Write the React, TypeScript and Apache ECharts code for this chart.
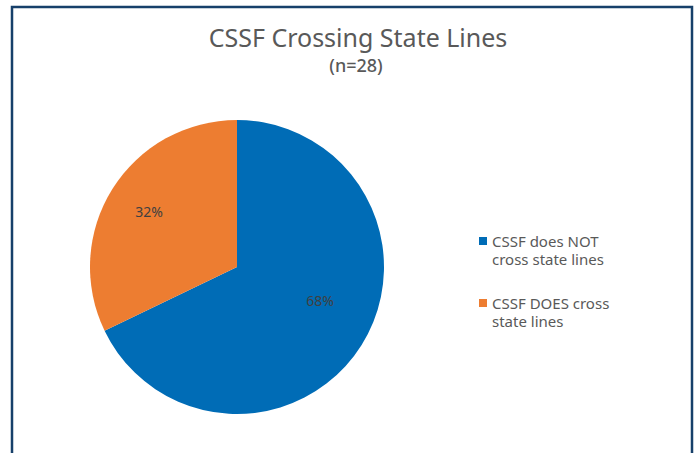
import React, { useEffect, useRef } from "react";
import * as echarts from "echarts";

const categories = ["CSSF does NOT cross state lines", "CSSF DOES cross state lines"];
const legendLabels = ["\nCSSF does NOT\ncross state lines", "\nCSSF DOES cross\nstate lines"];
const counts = [19, 9];
const percentLabels = ["68%", "32%"];
const colors = ["#006CB6", "#ED7D31"];
const labelPositions = [
  [320, 300],
  [149, 211],
];

export default function App() {
  const ref = useRef<HTMLDivElement>(null);
  useEffect(() => {
    if (!ref.current) return;
    const chart = echarts.init(ref.current, null, { renderer: "svg" });
    const font = "'Noto Sans', 'Open Sans', sans-serif";
    chart.setOption({
      animation: false,
      backgroundColor: "#ffffff",
      title: [
        {
          text: "CSSF Crossing State Lines",
          left: 353,
          top: 19,
          textAlign: "center",
          textStyle: { fontFamily: font, fontSize: 25, fontWeight: "normal", color: "#595959" },
        },
        {
          text: "(n=28)",
          left: 351,
          top: 51,
          textAlign: "center",
          textStyle: { fontFamily: font, fontSize: 18, fontWeight: 500, color: "#595959" },
        },
      ],
      legend: {
        orient: "vertical",
        left: 479,
        top: 214,
        padding: 0,
        itemWidth: 8,
        itemHeight: 8,
        itemGap: 8,
        icon: "rect",
        selectedMode: false,
        data: categories,
        formatter: (name: string) => legendLabels[categories.indexOf(name)],
        textStyle: {
          fontFamily: font,
          fontSize: 15,
          lineHeight: 18,
          color: "#595959",
        },
      },
      graphic: [
        {
          type: "rect",
          shape: { x: 12, y: 7, width: 680, height: 460 },
          style: { fill: "none", stroke: "#17406A", lineWidth: 2.5 },
          silent: true,
        },
      ],
      series: [
        {
          type: "pie",
          center: [237, 267],
          radius: 147,
          startAngle: 90,
          clockwise: true,
          data: categories.map((name, i) => ({
            name,
            value: counts[i],
            itemStyle: { color: colors[i] },
          })),
          label: {
            show: true,
            position: "inside",
            formatter: (p: any) => percentLabels[p.dataIndex],
            fontFamily: font,
            fontSize: 14,
            color: "#404040",
          },
          labelLayout: (p: any) => ({
            x: labelPositions[p.dataIndex][0],
            y: labelPositions[p.dataIndex][1],
            align: "center",
            verticalAlign: "middle",
          }),
          labelLine: { show: false },
          emphasis: { disabled: true },
          itemStyle: { borderWidth: 0 },
        },
      ],
    });
    return () => chart.dispose();
  }, []);
  return (
    <div
      ref={ref}
      style={{ position: "fixed", left: 0, top: 0, width: 695, height: 453 }}
    />
  );
}
